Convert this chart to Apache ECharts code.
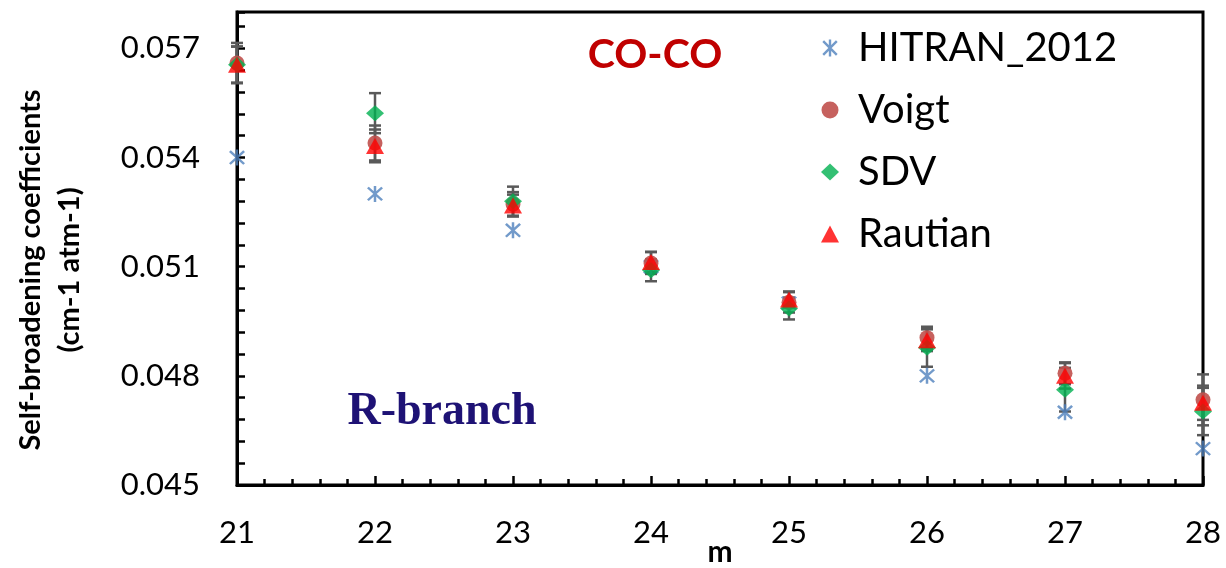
<!DOCTYPE html>
<html>
<head>
<meta charset="utf-8">
<script src="https://cdn.jsdelivr.net/npm/echarts@6/dist/echarts.min.js"></script>
<style>html,body{margin:0;padding:0;background:#fff}#c{width:1226px;height:568px}</style>
</head>
<body>
<div id="c"></div>
<script>
const mVals = [21, 22, 23, 24, 25, 26, 27, 28];
const hitran = [0.0540, 0.0530, 0.0520, 0.0510, 0.0500, 0.0480, 0.0470, 0.0460];
const voigt = [0.05660, 0.05440, 0.05272, 0.05110, 0.05002, 0.04905, 0.04807, 0.04734];
const sdv = [0.05655, 0.05522, 0.05280, 0.05090, 0.04985, 0.04877, 0.04762, 0.04702];
const rautian = [0.05655, 0.05432, 0.05268, 0.05113, 0.05010, 0.04898, 0.04800, 0.04726];
const voigtErr = [0.00055, 0.00048, 0.00033, 0.00030, 0.00028, 0.00030, 0.00030, 0.00070];
const sdvErr = [0.00050, 0.00055, 0.00040, 0.00030, 0.00030, 0.00052, 0.00060, 0.00065];
const rautianErr = [0.00050, 0.00045, 0.00030, 0.00028, 0.00022, 0.00030, 0.00035, 0.00047];
const yTickLabels = ['0.045', '0.048', '0.051', '0.054', '0.057'];

const asterisk = 'path://M8.6,0L11.4,0L11.4,20L8.6,20ZM3.0,1.0L19.0,17.0L17.0,19.0L1.0,3.0ZM17.0,1.0L19.0,3.0L3.0,19.0L1.0,17.0Z';

function pts(arr) { return mVals.map((m, i) => [m, arr[i]]); }
function errData(arr, err) { return mVals.map((m, i) => [m, arr[i] - err[i], arr[i] + err[i]]); }
function errSeries(name, arr, err) {
  return {
    type: 'custom', name: name, silent: true, z: 1, clip: false,
    data: errData(arr, err),
    encode: { x: 0, y: [1, 2] },
    renderItem: function (params, api) {
      const lo = api.coord([api.value(0), api.value(1)]);
      const hi = api.coord([api.value(0), api.value(2)]);
      const hw = 6;
      const st = { stroke: '#595959', lineWidth: 2.5 };
      return {
        type: 'group', children: [
          { type: 'line', shape: { x1: lo[0], y1: lo[1], x2: hi[0], y2: hi[1] }, style: st },
          { type: 'line', shape: { x1: lo[0] - hw, y1: lo[1], x2: lo[0] + hw, y2: lo[1] }, style: st },
          { type: 'line', shape: { x1: hi[0] - hw, y1: hi[1], x2: hi[0] + hw, y2: hi[1] }, style: st }
        ]
      };
    }
  };
}

const chart = echarts.init(document.getElementById('c'));
chart.setOption({
  animation: false,
  backgroundColor: '#fff',
  grid: { left: 237, right: 23, top: 12, bottom: 83, containLabel: false, outerBoundsMode: 'none', show: true, borderColor: '#000', borderWidth: 3 },
  xAxis: {
    type: 'value', min: 21, max: 28, interval: 1,
    axisLine: { lineStyle: { color: '#000', width: 3 } },
    axisTick: { inside: true, length: 9, lineStyle: { color: '#000', width: 2.5 } },
    minorTick: { show: true, splitNumber: 5, length: 6, lineStyle: { color: '#000', width: 2.5 } },
    splitLine: { show: false },
    axisLabel: { margin: 32, fontFamily: 'Lato', fontSize: 31, color: '#000' }
  },
  yAxis: {
    type: 'value', min: 0.045, max: 0.058, interval: 0.0006,
    axisLine: { show: true, lineStyle: { color: '#000', width: 3 } },
    axisTick: { show: true, inside: true, length: 8, lineStyle: { color: '#000', width: 2.5 } },
    splitLine: { show: false },
    axisLabel: {
      margin: 37, fontFamily: 'Lato', fontSize: 31, color: '#000',
      formatter: function (v) {
        const k = Math.round(v * 10000);
        const idx = (k - 450) / 30;
        return (k % 30 === 0 && idx >= 0 && idx < yTickLabels.length) ? yTickLabels[idx] : '';
      }
    }
  },
  legend: {
    orient: 'vertical', left: 816, top: 23, itemGap: 22,
    itemWidth: 18, itemHeight: 17,
    textStyle: { fontFamily: 'Lato', fontSize: 40, color: '#000', padding: [0, 0, 0, 14] },
    data: [
      { name: 'HITRAN_2012', icon: asterisk },
      { name: 'Voigt', icon: 'circle' },
      { name: 'SDV', icon: 'diamond' },
      { name: 'Rautian', icon: 'triangle' }
    ]
  },
  graphic: [
    { type: 'text', x: 655, y: 55, style: { text: 'CO-CO', font: 'bold 41px Lato', fill: '#C00000', textAlign: 'center', textVerticalAlign: 'middle' } },
    { type: 'text', x: 442, y: 412, style: { text: 'R-branch', font: 'bold 46px "Liberation Serif"', fill: '#1E1275', textAlign: 'center', textVerticalAlign: 'middle' } },
    { type: 'text', x: 720, y: 552, style: { text: 'm', font: 'bold 30px Lato', fill: '#000', textAlign: 'center', textVerticalAlign: 'middle' } },
    { type: 'text', x: 50, y: 270, rotation: Math.PI / 2, style: { text: 'Self-broadening coefficients\n(cm-1 atm-1)', font: 'bold 29px Lato', lineHeight: 39, fill: '#000', textAlign: 'center', textVerticalAlign: 'middle' } }
  ],
  series: [
    errSeries('Voigt err', voigt, voigtErr),
    errSeries('SDV err', sdv, sdvErr),
    errSeries('Rautian err', rautian, rautianErr),
    { type: 'scatter', name: 'HITRAN_2012', data: pts(hitran), symbol: asterisk, symbolSize: 16, clip: false, z: 2, itemStyle: { color: '#4F81BD' } },
    { type: 'scatter', name: 'Voigt', data: pts(voigt), symbol: 'circle', symbolSize: 15, clip: false, z: 3, itemStyle: { color: '#C0504D', opacity: 0.9 } },
    { type: 'scatter', name: 'SDV', data: pts(sdv), symbol: 'diamond', symbolSize: [18, 16], clip: false, z: 4, itemStyle: { color: '#00B050' } },
    { type: 'scatter', name: 'Rautian', data: pts(rautian), symbol: 'triangle', symbolSize: [18, 16], clip: false, z: 5, itemStyle: { color: '#FF0000' } }
  ]
});
</script>
</body>
</html>
